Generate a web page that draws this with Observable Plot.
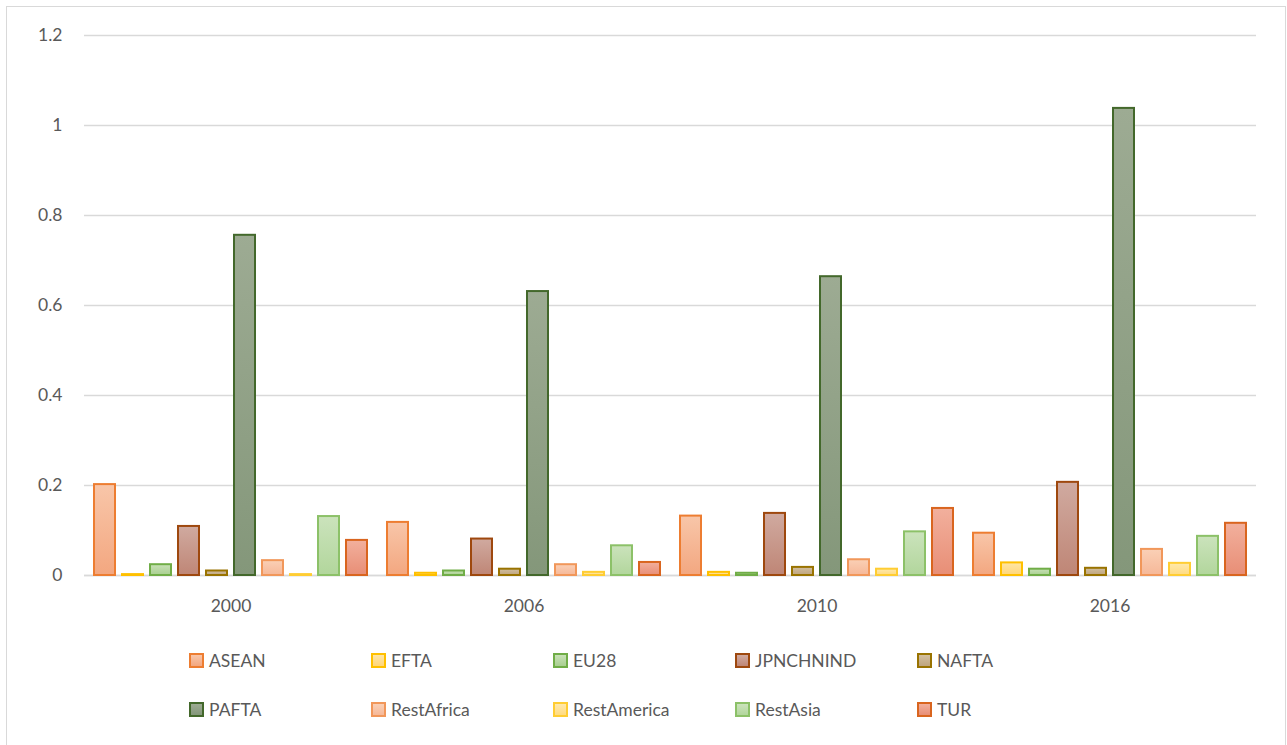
<!DOCTYPE html>
<html>
<head>
<meta charset="utf-8">
<script src="https://cdn.jsdelivr.net/npm/d3@7"></script>
<script src="https://cdn.jsdelivr.net/npm/@observablehq/plot@0.6"></script>
<style>
  html, body { margin: 0; padding: 0; background: #fff; }
  #wrap { position: relative; width: 1287px; height: 745px; overflow: hidden; font-family: Lato, "Open Sans", sans-serif; }
  #frame { position: absolute; left: 6px; top: 6px; width: 1280px; height: 760px; border: 1.5px solid #d9d9d9; box-sizing: border-box; }
  #chart { position: absolute; left: 0; top: 0; }
  #legend { position: absolute; left: 189px; top: 649px; display: grid; grid-template-columns: repeat(5, 182px); row-gap: 27px; }
  .item { display: flex; align-items: center; font-size: 17.5px; color: #595959; height: 22px; }
  .sw { width: 11px; height: 11px; border: 2px solid; margin-right: 5px; flex: none; }
</style>
</head>
<body>
<div id="wrap">
  <div id="frame"></div>
  <div id="chart"></div>
  <div id="legend"></div>
</div>
<script>
const years = ["2000", "2006", "2010", "2016"];
const series = ["ASEAN", "EFTA", "EU28", "JPNCHNIND", "NAFTA", "PAFTA", "RestAfrica", "RestAmerica", "RestAsia", "TUR"];
const values = {
  ASEAN:       [0.202, 0.118, 0.132, 0.094],
  EFTA:        [0.002, 0.005, 0.007, 0.028],
  EU28:        [0.024, 0.010, 0.005, 0.014],
  JPNCHNIND:   [0.109, 0.081, 0.138, 0.207],
  NAFTA:       [0.010, 0.014, 0.018, 0.016],
  PAFTA:       [0.756, 0.631, 0.664, 1.038],
  RestAfrica:  [0.033, 0.024, 0.035, 0.058],
  RestAmerica: [0.002, 0.007, 0.014, 0.027],
  RestAsia:    [0.131, 0.066, 0.097, 0.087],
  TUR:         [0.078, 0.029, 0.149, 0.116]
};
const yTicks = [0, 0.2, 0.4, 0.6, 0.8, 1, 1.2];

// style: [stroke, fillTop, fillBottom]
const styles = {
  ASEAN:       ["#ED7D31", "#F8C6A9", "#F3A780"],
  EFTA:        ["#FFC000", "#FFE6A6", "#FFD679"],
  EU28:        ["#70AD47", "#C8E1B7", "#A9CF90"],
  JPNCHNIND:   ["#9E480E", "#D0AAA0", "#BF8676"],
  NAFTA:       ["#997300", "#D2BFA0", "#BFA57E"],
  PAFTA:       ["#43682B", "#9DAB93", "#84977A"],
  RestAfrica:  ["#F1975A", "#FAD0B6", "#F6B898"],
  RestAmerica: ["#FFCD33", "#FFE9AD", "#FFDB80"],
  RestAsia:    ["#8CC168", "#CBE3BC", "#B2D69C"],
  TUR:         ["#D9651F", "#F2B09D", "#E88E76"]
};

const data = [];
series.forEach(s => years.forEach((y, i) => data.push({series: s, year: y, value: values[s][i]})));

const marks = [
  Plot.gridY(yTicks, {stroke: "#d9d9d9", strokeOpacity: 1, strokeWidth: 1.5}),
  Plot.axisY({ticks: yTicks, tickSize: 0, tickPadding: 22, label: null, fontSize: 17.5, tickFormat: d => String(+d.toFixed(1))}),
  Plot.axisFx({anchor: "bottom", tickSize: 0, tickPadding: 24, label: null, fontSize: 17.5}),
  Plot.ruleY([0], {stroke: "#d9d9d9", strokeWidth: 1.5})
];
series.forEach((s, k) => {
  marks.push(Plot.barY(data.filter(d => d.series === s), {
    fx: "year", x: "series", y: "value",
    fill: `url(#grad${k})`, stroke: styles[s][0], strokeWidth: 2
  }));
});

const chart = Plot.plot({
  width: 1287,
  height: 625,
  marginTop: 35,
  marginBottom: 50,
  marginLeft: 83,
  marginRight: 31,
  style: {fontFamily: "Lato, 'Open Sans', sans-serif", color: "#595959", fontSize: "17.5px", background: "transparent"},
  fx: {domain: years, padding: 0},
  x: {domain: series, paddingInner: 0.24, paddingOuter: 0.35, axis: null},
  y: {domain: [0, 1.2], axis: null},
  marks
});

// gradient definitions
const ns = "http://www.w3.org/2000/svg";
const defs = document.createElementNS(ns, "defs");
series.forEach((s, k) => {
  const g = document.createElementNS(ns, "linearGradient");
  g.setAttribute("id", `grad${k}`);
  g.setAttribute("x1", "0"); g.setAttribute("y1", "0");
  g.setAttribute("x2", "0"); g.setAttribute("y2", "1");
  [[0, styles[s][1]], [1, styles[s][2]]].forEach(([o, c]) => {
    const st = document.createElementNS(ns, "stop");
    st.setAttribute("offset", o);
    st.setAttribute("stop-color", c);
    g.appendChild(st);
  });
  defs.appendChild(g);
});
chart.insertBefore(defs, chart.firstChild);
chart.querySelectorAll("text").forEach(t => t.setAttribute("fill", "#595959"));
document.getElementById("chart").appendChild(chart);

const legend = document.getElementById("legend");
series.forEach(s => {
  const it = document.createElement("div");
  it.className = "item";
  const sw = document.createElement("span");
  sw.className = "sw";
  sw.style.borderColor = styles[s][0];
  sw.style.background = `linear-gradient(${styles[s][1]}, ${styles[s][2]})`;
  it.appendChild(sw);
  it.appendChild(document.createTextNode(s));
  legend.appendChild(it);
});
</script>
</body>
</html>
